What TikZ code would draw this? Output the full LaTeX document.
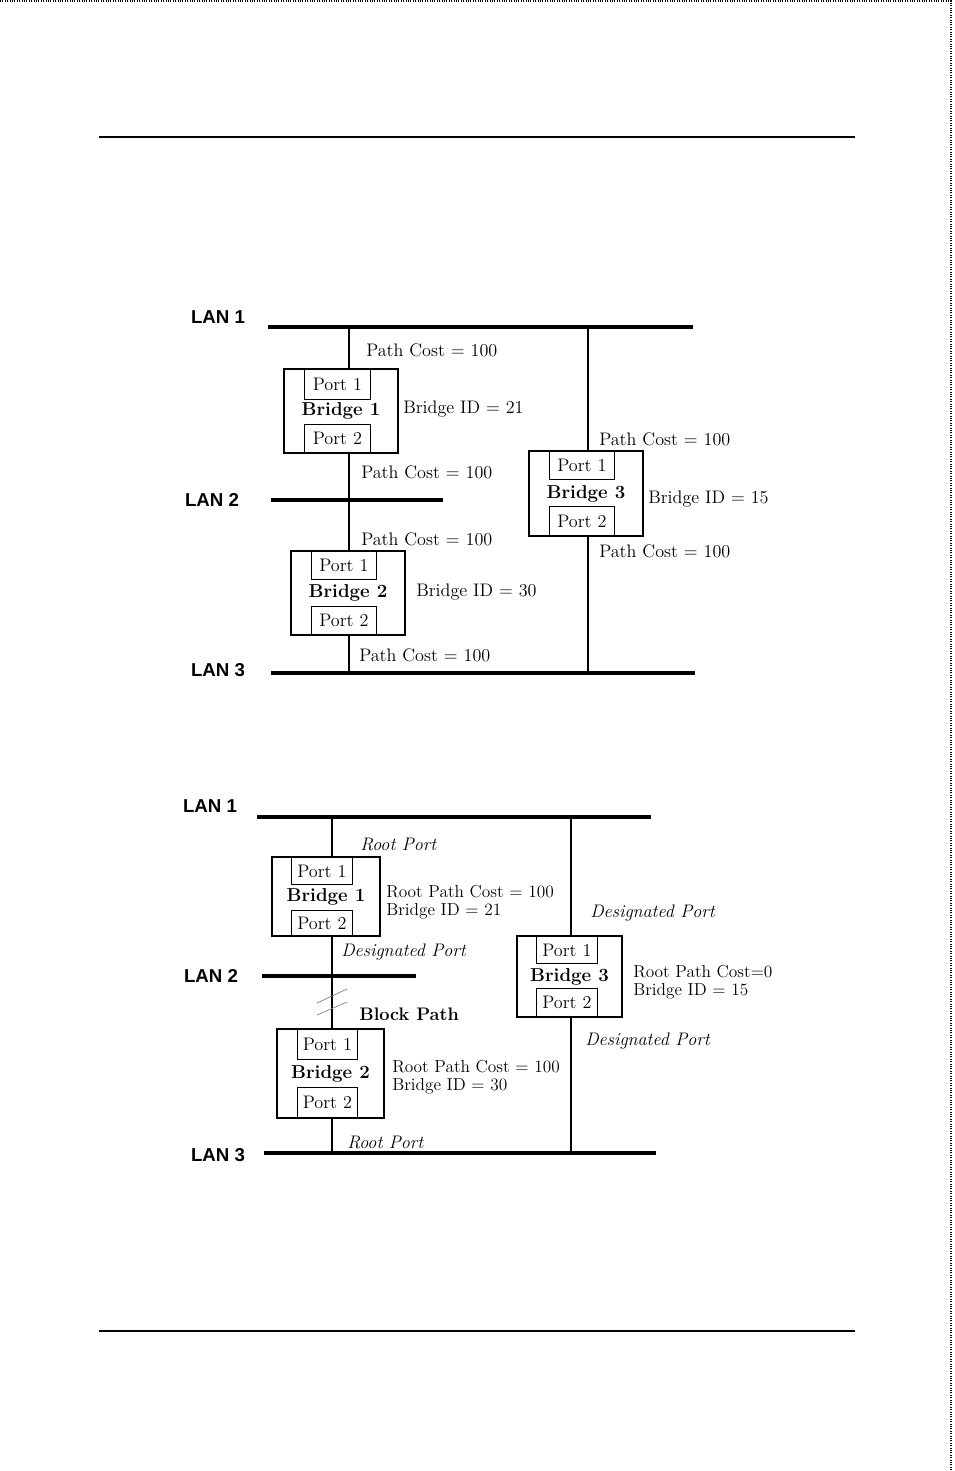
\documentclass[tikz,border=0pt]{standalone}
\usepackage{fontspec}
\newfontfamily\lanfont{Liberation Sans}
\usetikzlibrary{positioning, calc}

\begin{document}
\begin{tikzpicture}[x=0.75pt, y=-0.75pt,
	every node/.style={font=\fontsize{13.6}{13.5}\selectfont},
	lan/.style={line width=2.4pt},
	wire/.style={line width=0.9pt},
	rule/.style={line width=2pt},
	bridge/.style={draw, line width=1.2pt, inner sep=0, font=\fontsize{14}{13.5}\selectfont\bfseries},
	port/.style={draw, line width=0.6pt, inner sep=0},
	lanlbl/.style={font=\lanfont\fontsize{14}{16}\selectfont\bfseries},
	txt/.style={anchor=west, inner sep=0, align=left},
	info/.style={txt, font=\fontsize{13}{13.5}\selectfont},
	role/.style={txt, font=\fontsize{13.6}{13.5}\selectfont\itshape}]
	\useasboundingbox (0,0) rectangle (954,1471);
	\draw[densely dotted, line width=0.8pt] (0,1) -- (951,1) -- (951,1471);
	\draw[rule] (99,137) -- (855,137);
	\draw[rule] (99,1331) -- (855,1331);

	% before
	\node[lanlbl] (lanA1) at (218,317) {LAN 1};
	\node[lanlbl] (lanA2) at (212,500) {LAN 2};
	\node[lanlbl] (lanA3) at (218,670) {LAN 3};
	\coordinate (a1w) at (268,327); \coordinate (a1e) at (693,327);
	\coordinate (a2w) at (271,500); \coordinate (a2e) at (443,500);
	\coordinate (a3w) at (271,673); \coordinate (a3e) at (695,673);
	\draw[lan] (a1w) -- (a1e);
	\draw[lan] (a2w) -- (a2e);
	\draw[lan] (a3w) -- (a3e);
	\coordinate (ax1) at (349,327);
	\coordinate (ax3) at (588,327);

	\node[bridge, minimum width=85.5pt, minimum height=63pt] (ab1) at (341,411) {Bridge 1};
	\node[port, minimum width=49.5pt, minimum height=22.5pt, anchor=north west] (ab1p1) at (304,369) {Port 1};
	\node[port, minimum width=49.5pt, minimum height=21pt, anchor=south west] (ab1p2) at (304,453) {Port 2};
	\node[bridge, minimum width=85.5pt, minimum height=63pt] (ab2) at (348,593) {Bridge 2};
	\node[port, minimum width=48.75pt, minimum height=21pt, anchor=north west] (ab2p1) at (311,551) {Port 1};
	\node[port, minimum width=48.75pt, minimum height=21pt, anchor=south west] (ab2p2) at (311,635) {Port 2};
	\node[bridge, minimum width=85.5pt, minimum height=63.75pt] (ab3) at (586,493.5) {Bridge 3};
	\node[port, minimum width=48.75pt, minimum height=21pt, anchor=north west] (ab3p1) at (549,451) {Port 1};
	\node[port, minimum width=48.75pt, minimum height=21.75pt, anchor=south west] (ab3p2) at (549,536) {Port 2};

	\draw[wire] (ax1) -- (ax1 |- ab1.north);
	\draw[wire] (ax1 |- ab1.south) -- (ax1 |- ab2.north);
	\draw[wire] (ax1 |- ab2.south) -- (ax1 |- a3w);
	\draw[wire] (ax3) -- (ax3 |- ab3.north);
	\draw[wire] (ax3 |- ab3.south) -- (ax3 |- a3w);

	\node[txt] (ac1) at (366,350) {Path Cost = 100};
	\node[txt] (aid1) at (403,409) {Bridge ID = 21};
	\node[txt] (ac2) at (361,472) {Path Cost = 100};
	\node[txt] (ac3) at (361,539) {Path Cost = 100};
	\node[txt] (aid2) at (416,592) {Bridge ID = 30};
	\node[txt] (ac4) at (359,655) {Path Cost = 100};
	\node[txt] (ac5) at (599,439) {Path Cost = 100};
	\node[txt] (aid3) at (648,499) {Bridge ID = 15};
	\node[txt] (ac6) at (599,551) {Path Cost = 100};

	% after
	\node[lanlbl] (lanB1) at (210,806) {LAN 1};
	\node[lanlbl] (lanB2) at (211,976) {LAN 2};
	\node[lanlbl] (lanB3) at (218,1155) {LAN 3};
	\coordinate (b1w) at (257,817); \coordinate (b1e) at (651,817);
	\coordinate (b2w) at (262,976); \coordinate (b2e) at (416,976);
	\coordinate (b3w) at (264,1153); \coordinate (b3e) at (656,1153);
	\draw[lan] (b1w) -- (b1e);
	\draw[lan] (b2w) -- (b2e);
	\draw[lan] (b3w) -- (b3e);
	\coordinate (bx1) at (332,817);
	\coordinate (bx3) at (571,817);

	\node[bridge, minimum width=81pt, minimum height=59.25pt] (bb1) at (326,896.5) {Bridge 1};
	\node[port, minimum width=45.75pt, minimum height=20.25pt, anchor=north west] (bb1p1) at (291,857) {Port 1};
	\node[port, minimum width=45.75pt, minimum height=18.75pt, anchor=south west] (bb1p2) at (291,936) {Port 2};
	\node[bridge, minimum width=80.25pt, minimum height=66.75pt] (bb2) at (330.5,1073.5) {Bridge 2};
	\node[port, minimum width=45pt, minimum height=22.5pt, anchor=north west] (bb2p1) at (297,1029) {Port 1};
	\node[port, minimum width=45pt, minimum height=22.5pt, anchor=south west] (bb2p2) at (297,1118) {Port 2};
	\node[bridge, minimum width=78.75pt, minimum height=60.75pt] (bb3) at (569.5,976.5) {\raisebox{-3pt}{Bridge 3}};
	\node[port, minimum width=45.75pt, minimum height=20.25pt, anchor=north west] (bb3p1) at (536,936) {Port 1};
	\node[port, minimum width=45.75pt, minimum height=21pt, anchor=south west] (bb3p2) at (536,1017) {Port 2};

	\draw[wire] (bx1) -- (bx1 |- bb1.north);
	\draw[wire] (bx1 |- bb1.south) -- (bx1 |- bb2.north);
	\draw[wire] (bx1 |- bb2.south) -- (bx1 |- b3w);
	\draw[wire] (bx3) -- (bx3 |- bb3.north);
	\draw[wire] (bx3 |- bb3.south) -- (bx3 |- b3w);
	\draw[gray, line width=0.5pt] (317,1003) -- (347,989);
	\draw[gray, line width=0.5pt] (317,1015) -- (347,1002);

	\node[role] (br1) at (360,844) {Root Port};
	\node[info] (bid1) at (386,902) {Root Path Cost = 100\\Bridge ID = 21};
	\node[role] (bd1) at (341,952) {Designated Port};
	\node[txt, font=\fontsize{13.6}{13.5}\selectfont\bfseries] (bblk) at (359,1014) {Block Path};
	\node[info] (bid2) at (392,1077) {Root Path Cost = 100\\Bridge ID = 30};
	\node[role] (br2) at (347,1142) {Root Port};
	\node[role] (bd2) at (590,913) {Designated Port};
	\node[info] (bid3) at (633,982) {Root Path Cost=0\\Bridge ID = 15};
	\node[role] (bd3) at (585,1041) {Designated Port};
\end{tikzpicture}
\end{document}
